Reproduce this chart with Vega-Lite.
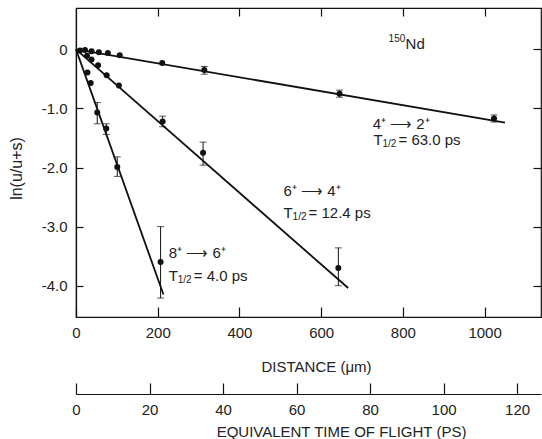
{
  "$schema": "https://vega.github.io/schema/vega-lite/v6.json",
  "width": 465,
  "height": 309,
  "autosize": {"type": "none"},
  "padding": {"left": 76, "top": 8, "right": 1, "bottom": 122},
  "background": "white",
  "datasets": {
    "pts": [
      {"s": "A", "d": 10, "v": -0.02},
      {"s": "A", "d": 22, "v": -0.01},
      {"s": "A", "d": 38, "v": -0.03},
      {"s": "A", "d": 56, "v": -0.05},
      {"s": "A", "d": 78, "v": -0.06},
      {"s": "A", "d": 107, "v": -0.10},
      {"s": "A", "d": 211, "v": -0.23},
      {"s": "A", "d": 314, "v": -0.35},
      {"s": "A", "d": 645, "v": -0.75},
      {"s": "A", "d": 1023, "v": -1.17},
      {"s": "B", "d": 27, "v": -0.11},
      {"s": "B", "d": 38, "v": -0.17},
      {"s": "B", "d": 54, "v": -0.27},
      {"s": "B", "d": 75, "v": -0.44},
      {"s": "B", "d": 105, "v": -0.61},
      {"s": "B", "d": 212, "v": -1.22},
      {"s": "B", "d": 311, "v": -1.75},
      {"s": "B", "d": 642, "v": -3.70},
      {"s": "C", "d": 28, "v": -0.39},
      {"s": "C", "d": 36, "v": -0.57},
      {"s": "C", "d": 52, "v": -1.07},
      {"s": "C", "d": 74, "v": -1.34},
      {"s": "C", "d": 101, "v": -1.99},
      {"s": "C", "d": 207, "v": -3.60}
    ],
    "errs": [
      {"s": "A", "d": 314, "lo": -0.42, "hi": -0.29},
      {"s": "A", "d": 645, "lo": -0.81, "hi": -0.69},
      {"s": "A", "d": 1023, "lo": -1.23, "hi": -1.11},
      {"s": "B", "d": 212, "lo": -1.31, "hi": -1.13},
      {"s": "B", "d": 311, "lo": -1.96, "hi": -1.57},
      {"s": "B", "d": 642, "lo": -4.00, "hi": -3.36},
      {"s": "C", "d": 52, "lo": -1.26, "hi": -0.90},
      {"s": "C", "d": 74, "lo": -1.44, "hi": -1.26},
      {"s": "C", "d": 101, "lo": -2.15, "hi": -1.82},
      {"s": "C", "d": 207, "lo": -4.21, "hi": -3.00}
    ],
    "fits": [
      {"s": "A", "d": 0, "v": 0},
      {"s": "A", "d": 1050, "v": -1.24},
      {"s": "B", "d": 0, "v": 0},
      {"s": "B", "d": 666, "v": -4.04},
      {"s": "C", "d": 0, "v": 0},
      {"s": "C", "d": 214, "v": -4.15}
    ],
    "labels": [
      {"d": 726, "v": -1.26, "t": "4⁺ ⟶ 2⁺"},
      {"d": 508, "v": -2.40, "t": "6⁺ ⟶ 4⁺"},
      {"d": 227, "v": -3.45, "t": "8⁺ ⟶ 6⁺"}
    ],
    "halflife": [
      {"d": 728, "v": -1.53, "hl": "= 63.0 ps"},
      {"d": 508, "v": -2.77, "hl": "= 12.4 ps"},
      {"d": 227, "v": -3.83, "hl": "= 4.0 ps"}
    ],
    "nucleus": [
      {"d": 765, "v": 0.09, "mass": "150", "el": "Nd"}
    ]
  },
  "layer": [
    {
      "layer": [
        {
          "data": {"name": "fits"},
          "mark": {"type": "line", "color": "#111", "strokeWidth": 1.8},
          "encoding": {
            "x": {
              "field": "d", "type": "quantitative",
              "scale": {"domain": [0, 1138], "nice": false, "zero": false},
              "axis": {
                "orient": "bottom",
                "values": [0, 200, 400, 600, 800, 1000],
                "format": "d",
                "tickSize": -10, "tickWidth": 1.2, "domainWidth": 1.2,
                "labelFontSize": 15, "labelPadding": 18, "labelFlush": false,
                "title": "DISTANCE (μm)", "titleFontSize": 15,
                "titleX": 240, "titleY": 49, "titleBaseline": "middle"
              }
            },
            "y": {
              "field": "v", "type": "quantitative",
              "scale": {"domain": [-4.53, 0.7], "nice": false, "zero": false},
              "axis": {
                "orient": "left",
                "values": [0, -1, -2, -3, -4],
                "tickSize": -7, "tickWidth": 1.2, "domainWidth": 1.2,
                "labelFontSize": 15, "labelPadding": 16, "labelFlush": false,
                "labelExpr": "datum.value == 0 ? '0' : '-' + format(-datum.value, '.1f')",
                "title": "ln(u/u+s)", "titleFontSize": 16,
                "titleX": -60, "titleY": 160, "titleBaseline": "middle", "titleAngle": 270
              }
            },
            "detail": {"field": "s"}
          }
        },
        {
          "data": {"name": "errs"},
          "mark": {"type": "rule", "color": "#111", "strokeWidth": 1},
          "encoding": {
            "x": {"field": "d", "type": "quantitative"},
            "y": {"field": "lo", "type": "quantitative"},
            "y2": {"field": "hi"}
          }
        },
        {
          "data": {"name": "errs"},
          "mark": {"type": "tick", "orient": "horizontal", "size": 7, "thickness": 1, "color": "#111"},
          "encoding": {
            "x": {"field": "d", "type": "quantitative"},
            "y": {"field": "lo", "type": "quantitative"}
          }
        },
        {
          "data": {"name": "errs"},
          "mark": {"type": "tick", "orient": "horizontal", "size": 7, "thickness": 1, "color": "#111"},
          "encoding": {
            "x": {"field": "d", "type": "quantitative"},
            "y": {"field": "hi", "type": "quantitative"}
          }
        },
        {
          "data": {"name": "pts"},
          "mark": {"type": "point", "filled": true, "size": 36, "color": "#111", "opacity": 1},
          "encoding": {
            "x": {"field": "d", "type": "quantitative"},
            "y": {"field": "v", "type": "quantitative"}
          }
        },
        {
          "data": {"name": "labels"},
          "mark": {"type": "text", "align": "left", "baseline": "middle", "fontSize": 15, "font": "Liberation Sans", "color": "#222"},
          "encoding": {
            "x": {"field": "d", "type": "quantitative"},
            "y": {"field": "v", "type": "quantitative"},
            "text": {"field": "t"}
          }
        },
        {
          "data": {"name": "halflife"},
          "mark": {"type": "text", "text": "T", "align": "left", "baseline": "middle", "fontSize": 15, "font": "Liberation Sans", "color": "#222"},
          "encoding": {
            "x": {"field": "d", "type": "quantitative"},
            "y": {"field": "v", "type": "quantitative"}
          }
        },
        {
          "data": {"name": "halflife"},
          "mark": {"type": "text", "text": "1/2", "align": "left", "baseline": "middle", "dx": 9, "dy": 4, "fontSize": 10, "font": "Liberation Sans", "color": "#222"},
          "encoding": {
            "x": {"field": "d", "type": "quantitative"},
            "y": {"field": "v", "type": "quantitative"}
          }
        },
        {
          "data": {"name": "halflife"},
          "mark": {"type": "text", "align": "left", "baseline": "middle", "dx": 25, "fontSize": 15, "font": "Liberation Sans", "color": "#222"},
          "encoding": {
            "x": {"field": "d", "type": "quantitative"},
            "y": {"field": "v", "type": "quantitative"},
            "text": {"field": "hl"}
          }
        },
        {
          "data": {"name": "nucleus"},
          "mark": {"type": "text", "align": "left", "baseline": "middle", "dy": -5, "fontSize": 10, "font": "Liberation Sans", "color": "#222"},
          "encoding": {
            "x": {"field": "d", "type": "quantitative"},
            "y": {"field": "v", "type": "quantitative"},
            "text": {"field": "mass"}
          }
        },
        {
          "data": {"name": "nucleus"},
          "mark": {"type": "text", "align": "left", "baseline": "middle", "dx": 17, "fontSize": 15, "font": "Liberation Sans", "color": "#222"},
          "encoding": {
            "x": {"field": "d", "type": "quantitative"},
            "y": {"field": "v", "type": "quantitative"},
            "text": {"field": "el"}
          }
        }
      ]
    },
    {
      "mark": {"type": "point", "opacity": 0},
      "encoding": {
        "x": {
          "datum": 0, "type": "quantitative",
          "scale": {"domain": [0, 126.5], "nice": false, "zero": false},
          "axis": {
            "orient": "bottom", "offset": 77,
            "values": [0, 20, 40, 60, 80, 100, 120],
            "tickSize": -11, "tickWidth": 1.2, "domainWidth": 1.2,
            "labelFontSize": 15, "labelPadding": 19, "labelFlush": false,
            "title": "EQUIVALENT TIME OF FLIGHT (PS)", "titleFontSize": 15,
            "titleX": 265, "titleY": 37, "titleBaseline": "middle"
          }
        }
      }
    },
    {
      "mark": {"type": "point", "opacity": 0},
      "encoding": {
        "x": {
          "datum": 0, "type": "quantitative",
          "scale": {"domain": [0, 1138], "nice": false, "zero": false},
          "axis": {
            "orient": "top", "values": [200, 400, 600, 800, 1000],
            "tickSize": -8, "tickWidth": 1.2, "labels": false, "domain": false, "title": null
          }
        },
        "y": {
          "datum": 0, "type": "quantitative",
          "scale": {"domain": [-4.53, 0.7], "nice": false, "zero": false},
          "axis": {
            "orient": "right", "values": [0, -1, -2, -3, -4],
            "tickSize": -8, "tickWidth": 1.2, "labels": false, "domain": false, "title": null
          }
        }
      }
    }
  ],
  "resolve": {"scale": {"x": "independent", "y": "independent"}},
  "config": {
    "view": {"stroke": "#111", "strokeWidth": 1.2},
    "axis": {
      "grid": false,
      "labelFont": "Liberation Sans",
      "titleFont": "Liberation Sans",
      "labelColor": "#222",
      "titleColor": "#222",
      "titleFontWeight": "normal",
      "domainColor": "#111",
      "tickColor": "#111"
    }
  }
}
